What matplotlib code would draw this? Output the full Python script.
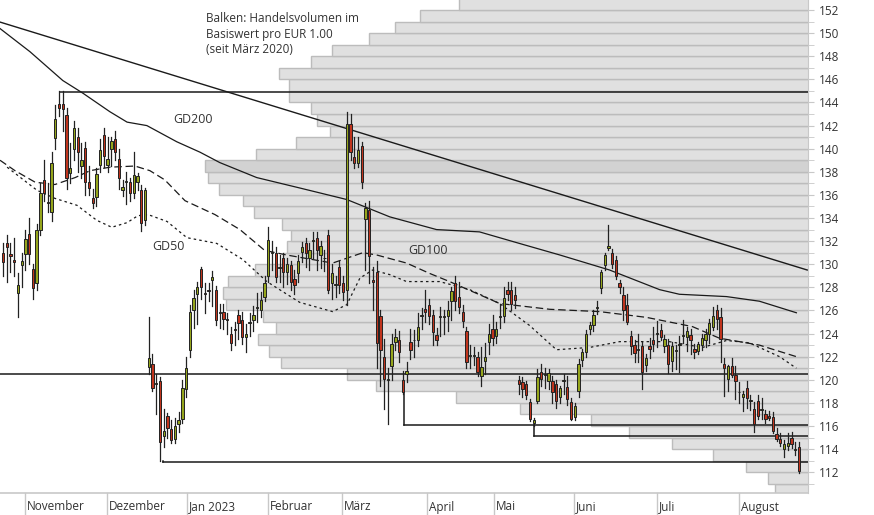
import matplotlib
matplotlib.use("Agg")
import matplotlib.pyplot as plt
from matplotlib.patches import Rectangle
import numpy as np

plt.rcParams['font.family'] = ['Open Sans', 'DejaVu Sans']

# ---------------- data ----------------
opens = [131.0,131.8,130.9,130.4,127.5,129.9,130.9,132.6,129.6,128.4,
         133.0,137.3,135.4,134.5,140.9,143.9,143.9,142.9,137.9,140.0,
         141.0,138.5,140.1,137.1,135.7,135.8,138.6,141.2,138.6,140.0,
         140.8,139.1,136.4,137.1,137.1,136.2,137.1,136.4,133.8,
         121.1,121.4,119.6,119.9,115.1,116.9,115.7,114.9,116.2,116.6,
         119.2,122.6,126.0,127.4,129.6,127.5,127.8,128.6,127.8,125.9,
         125.9,125.3,124.0,124.4,125.6,125.2,123.7,124.9,125.2,126.2,
         126.0,127.2,129.0,131.0,131.0,129.7,130.5,129.3,129.9,128.7,
         129.2,131.1,131.8,130.5,132.0,132.3,130.8,130.5,132.5,128.4,
         128.2,129.8,128.4,127.8,142.1,139.3,138.8,140.2,133.9,134.7,
         128.6,129.3,125.5,122.0,120.0,121.2,123.3,123.4,120.0,120.5,
         123.3,123.4,123.4,125.5,126.1,126.5,125.6,123.9,125.4,125.4,
         125.5,126.8,128.4,127.2,125.9,124.2,122.1,122.1,122.0,120.3,
         121.6,123.3,124.4,123.8,125.4,125.5,127.8,127.8,127.3,120.0,
         119.8,119.6,118.1,116.3,118.2,120.7,120.4,119.9,119.9,119.6,
         118.5,119.9,119.4,118.1,116.8,119.0,121.7,122.4,124.4,124.7,
         126.2,127.9,129.9,131.4,131.0,130.4,128.4,127.3,126.5,123.8,
         123.0,122.6,122.9,121.3,122.9,123.4,124.0,124.3,122.9,123.0,
         121.6,122.5,123.0,123.8,123.7,123.9,122.7,122.5,123.0,123.4,
         124.0,124.6,126.0,125.4,121.4,120.05,121.2,120.4,118.9,118.5,
         119.3,118.2,117.5,118.2,117.4,117.0,116.9,116.8,115.3,114.9,
         114.0,114.3,115.0,113.9,114.2]
highs = [131.8,132.5,131.8,132.3,129.2,131.0,133.0,134.0,130.0,133.5,
         137.0,139.0,137.0,139.7,143.8,145.0,145.0,143.5,140.5,142.4,
         141.8,140.5,140.6,138.5,136.5,138.3,140.8,141.8,141.0,141.0,
         141.5,140.0,137.3,138.0,137.5,139.7,137.9,136.9,136.6,
         125.4,122.2,120.5,120.2,117.5,117.1,116.5,116.7,117.2,120.0,
         122.0,126.5,127.8,128.5,129.8,128.4,128.4,129.4,128.1,126.6,
         126.6,125.8,124.6,125.0,126.0,125.9,124.8,125.8,126.4,127.5,
         127.6,129.0,133.2,132.0,131.5,130.8,131.0,130.5,130.3,129.5,
         130.8,131.9,132.3,131.8,132.8,132.8,132.0,131.2,133.0,130.0,
         129.0,130.3,129.0,143.2,143.0,141.0,141.0,140.6,135.3,135.5,
         129.8,130.3,126.0,123.5,121.0,124.0,124.4,124.2,120.8,121.5,
         124.4,124.3,125.8,126.2,127.8,127.0,126.0,124.5,126.3,126.0,
         126.8,128.0,129.0,128.5,126.5,124.6,123.0,122.8,122.4,122.8,
         123.2,124.8,125.6,125.0,126.6,128.0,128.5,128.5,128.0,120.3,
         120.2,119.9,118.3,116.7,120.9,121.4,121.0,120.9,120.3,120.0,
         119.5,120.5,120.3,118.4,118.0,121.8,122.7,124.3,125.0,126.0,
         126.8,129.5,131.0,133.4,131.3,130.7,128.6,128.0,127.4,124.2,
         123.4,124.0,123.3,122.2,123.6,124.6,125.1,124.8,123.9,123.5,
         123.3,123.0,123.8,125.2,124.6,124.4,123.1,123.3,124.0,124.4,
         125.3,126.3,126.5,126.2,121.9,121.3,121.9,121.2,119.8,119.0,
         119.9,118.7,118.1,118.7,118.4,117.4,117.3,117.2,115.8,115.4,
         114.8,115.4,115.5,114.6,114.6]
lows = [129.0,128.5,129.3,129.0,125.4,128.0,129.5,130.0,127.0,127.8,
        132.5,135.5,134.5,133.7,140.0,142.8,141.5,136.5,137.0,139.0,
        138.0,137.5,136.0,136.0,134.9,135.0,138.0,138.4,138.0,138.5,
        139.0,136.5,135.9,135.2,135.5,135.7,136.4,132.9,133.4,
        120.5,119.0,117.0,113.0,114.2,115.0,114.5,114.5,115.5,116.3,
        118.5,122.0,124.5,124.8,127.0,125.8,126.8,126.4,124.7,124.5,
        124.4,124.0,122.6,123.0,123.5,123.1,122.4,123.8,124.2,125.0,
        125.4,126.8,128.5,129.5,128.5,128.5,128.0,128.3,127.8,127.4,
        128.5,130.2,129.8,129.5,130.5,129.5,129.7,129.4,127.5,127.0,
        127.2,127.5,126.9,126.5,139.0,138.3,138.4,136.6,129.5,128.4,
        126.0,121.0,119.5,117.5,116.2,120.0,122.6,121.5,118.8,119.8,
        121.8,122.0,122.9,124.4,125.0,124.8,123.0,123.0,123.8,124.0,
        124.2,125.2,126.0,125.8,124.6,121.0,121.0,121.3,120.3,119.5,
        120.5,122.2,123.0,123.2,124.5,125.0,126.9,126.0,126.2,118.8,
        118.5,118.3,116.4,116.0,118.0,119.5,119.3,119.2,118.0,117.6,
        118.0,118.8,117.8,116.5,116.5,118.5,121.2,122.0,124.0,124.2,
        125.7,127.5,129.5,131.2,129.7,128.7,127.5,125.2,124.8,122.2,
        121.5,121.5,119.2,120.8,121.9,122.5,122.8,123.4,122.4,120.6,
        120.8,120.9,120.7,123.2,122.5,122.2,121.9,122.2,122.6,122.8,
        123.2,124.3,124.4,121.5,118.6,119.0,120.2,118.3,118.0,117.3,
        117.6,117.4,115.5,116.6,116.6,116.3,116.5,115.4,114.7,114.3,
        113.3,113.9,114.1,113.5,111.9]
closes = [130.2,131.5,130.7,130.2,128.2,130.3,132.2,130.9,127.9,133.0,
          136.2,136.2,135.3,138.8,142.6,143.5,143.4,137.5,138.3,141.8,
          139.7,139.0,137.1,136.6,135.3,137.8,139.9,139.4,139.1,140.7,
          139.7,137.5,136.7,137.1,136.2,137.7,137.6,133.6,136.4,
          121.9,119.3,119.6,114.6,115.6,115.8,114.8,116.0,116.5,119.3,
          121.0,125.9,127.1,128.0,128.0,127.4,127.7,128.9,125.2,125.8,
          125.3,125.2,123.2,124.3,124.9,123.7,124.0,124.9,125.6,126.2,
          126.9,128.4,132.1,131.0,128.9,129.7,129.3,130.0,128.5,128.2,
          130.3,131.5,131.0,131.2,132.0,131.2,131.6,130.5,127.8,129.2,
          128.2,128.2,127.6,142.1,139.7,138.8,139.9,137.1,134.9,130.7,
          128.5,123.2,122.6,120.1,120.0,123.1,123.7,122.4,118.9,120.8,
          122.6,123.4,124.6,125.6,125.9,125.5,124.1,123.4,125.4,125.4,
          126.0,127.7,126.8,126.3,125.1,121.5,122.1,122.1,120.7,121.1,
          122.0,124.0,123.6,124.4,125.4,127.1,127.4,126.6,126.9,119.6,
          119.2,118.7,116.6,116.5,120.2,120.1,120.4,120.6,118.9,118.2,
          119.3,119.9,118.3,116.6,117.7,121.4,122.4,124.0,124.7,125.6,
          126.2,129.3,130.8,131.6,130.0,129.0,128.0,126.0,125.0,122.9,
          122.3,122.6,120.7,121.9,122.7,123.1,124.0,123.7,123.5,121.4,
          122.9,122.5,123.0,123.8,124.2,123.4,122.4,123.1,123.6,124.0,
          124.9,125.5,125.3,123.5,121.0,121.2,120.4,119.9,118.9,118.8,
          118.4,118.2,116.2,116.9,117.4,116.6,116.7,115.6,114.9,114.5,
          114.4,114.5,114.4,113.9,112.1]

month_labels = ["November", "Dezember", "Jan 2023", "Februar", "März",
                "April", "Mai", "Juni", "Juli", "August"]
month_start_idx = [5.9, 27.8, 49.2, 70.9, 90.6, 113.4, 131.3, 152.9, 175.1, 197.0]

# volume profile (price band bottom, relative volume)
profile_price = list(range(110, 153))
profile_volume = [33, 40, 62, 95, 136, 179, 217, 288, 352, 432, 461, 527, 539, 550,
                  532, 545, 582, 585, 580, 553, 525, 521, 517, 526, 554, 565, 589,
                  600, 603, 552, 512, 478, 491, 497, 519, 519, 529, 497, 476, 439,
                  413, 388, 349]
profile_highlight = 138

# support lines: level, start index
support_level = [144.9, 120.5, 116.1, 115.1, 112.9]
support_start = [15.2, -1.0, 107.2, 142.0, 42.8]
support_drop_from = [None, None, 118.9, 116.1, 113.0]

trend_idx = [-0.8, 215.2]
trend_price = [150.96, 129.5]

gd200_idx = [-0.8, 7.2, 16, 21.4, 28.6, 33.2, 38.5, 46.5, 52.7, 58, 67.9, 79.4, 92,
             103.5, 116, 127.5, 138.2, 149, 162.3, 175.7, 181, 193.6, 202.4, 212.3]
gd200_val = [150.4, 148.4, 145.9, 144.8, 143.2, 142.3, 142.0, 140.6, 139.7, 138.8,
             137.5, 136.6, 135.6, 134.1, 133.0, 132.8, 131.8, 130.8, 129.5, 127.8,
             127.4, 127.2, 126.8, 125.8]
gd100_idx = [-0.8, 3.2, 8.6, 13.9, 19.3, 23.3, 28.6, 35.3, 39.3, 43.3, 48.7, 56.7,
             63.4, 70, 75.9, 88.2, 96.3, 100, 108, 114.2, 119.5, 132.9, 146.3, 159.6,
             172.2, 184.5, 191.7, 202.4, 212.3]
gd100_val = [139.0, 138.1, 137.1, 136.9, 137.5, 138.1, 138.4, 138.5, 138.1, 137.3,
             135.5, 134.3, 133.0, 131.2, 130.8, 130.1, 131.0, 130.8, 130.1, 129.2,
             128.5, 126.6, 126.1, 125.9, 125.4, 124.6, 123.6, 123.0, 122.0]
gd50_idx = [1.1, 9.1, 13.9, 19.8, 25.1, 29.1, 33.2, 36.1, 38.8, 43.9, 49.2, 57.2,
            64.2, 70.6, 79.4, 88.2, 92, 95.5, 98.9, 103.5, 108, 116.8, 124.9, 132.9,
            140.9, 148.1, 157, 165, 178.3, 187.2, 193.6, 199.7, 207.8, 212.3]
gd50_val = [138.4, 136.4, 135.7, 135.1, 133.8, 133.2, 133.6, 134.2, 134.3, 133.7,
            132.3, 131.8, 130.4, 128.5, 126.7, 125.9, 126.5, 128.8, 129.5, 129.1,
            128.5, 128.5, 127.8, 126.6, 124.7, 122.6, 122.8, 123.3, 123.3, 122.8,
            123.4, 123.2, 122.0, 121.0]

# ---------------- figure ----------------
W, H = 874, 515
fig = plt.figure(figsize=(W / 100, H / 100), dpi=100)
ax = fig.add_axes([0, 22 / H, 808 / W, 1 - 22 / H])

n = len(closes)
step = 796 / (n - 1)           # px per candle
xmin = -3 / step
xmax = xmin + 808 / step
ax.set_xlim(xmin, xmax)
ax.set_ylim(110.2, 152.87)

# volume profile
scale = 1 / step
for p, v in zip(profile_price, profile_volume):
    fc = '#d2d2d2' if p == profile_highlight else '#e0e0e0'
    ax.add_patch(Rectangle((xmax - v * scale, p), v * scale + 1, 1.0,
                           facecolor=fc, edgecolor='#bcbcbc', lw=1.0, zorder=1))

# support lines
for lvl, st, dfrom in zip(support_level, support_start, support_drop_from):
    ax.plot([st, xmax], [lvl, lvl], color='#1a1a1a', lw=1.1, zorder=3)
    if dfrom is not None:
        ax.plot([st, st], [dfrom, lvl], color='#1a1a1a', lw=1.1, zorder=3)

ax.plot(trend_idx, trend_price, color='#1a1a1a', lw=1.0, zorder=3)
ax.plot(gd200_idx, gd200_val, color='#1a1a1a', lw=0.9, zorder=3)
ax.plot(gd100_idx, gd100_val, color='#1a1a1a', lw=0.9, zorder=3, dashes=(6, 3))
ax.plot(gd50_idx, gd50_val, color='#1a1a1a', lw=0.9, zorder=3, dashes=(2, 2.5))

# candles
w = 0.62
for i, (o, h, l, c) in enumerate(zip(opens, highs, lows, closes)):
    col = '#95a51c' if c >= o else '#c0341d'
    ax.plot([i, i], [l, h], color='#222222', lw=0.9, zorder=4)
    lo, hi = min(o, c), max(o, c)
    ax.add_patch(Rectangle((i - w / 2, lo), w, max(hi - lo, 0.08),
                           facecolor=col, edgecolor='#222222', lw=0.7, zorder=5))

# labels
tc = '#333333'
ax.text(50.8, 142.5, "GD200", fontsize=9, color=tc, ha='center', va='center', zorder=6)
ax.text(44.4, 131.5, "GD50", fontsize=9, color=tc, ha='center', va='center', zorder=6)
ax.text(113.6, 131.2, "GD100", fontsize=9, color=tc, ha='center', va='center', zorder=6)
ax.text(54.3, 151.8, "Balken: Handelsvolumen im\nBasiswert pro EUR 1.00\n(seit März 2020)",
        fontsize=8.5, color=tc, ha='left', va='top', linespacing=1.25, zorder=6)

# axes styling
for s in ['top', 'left', 'bottom']:
    ax.spines[s].set_visible(False)
ax.spines['right'].set_color('#c8c8c8')
ax.yaxis.tick_right()
ax.set_yticks(np.arange(112, 153, 2))
ax.set_yticks(np.arange(111, 153, 1), minor=True)
ax.tick_params(axis='y', which='both', colors='#c8c8c8', labelcolor=tc,
               labelsize=8.5, length=4, pad=4)
ax.set_xticks([])

# bottom axis with month separators
fig.add_artist(plt.Line2D([0, 808 / W], [22 / H, 22 / H], color='#c8c8c8', lw=1.2))
for lab, mi in zip(month_labels, month_start_idx):
    xf = (mi - xmin) * step / W
    fig.add_artist(plt.Line2D([xf, xf], [0, 22 / H], color='#c8c8c8', lw=1.0))
    fig.text(xf + 2 / W, 8 / H, lab, fontsize=8.5, color=tc, ha='left', va='center')

fig.savefig("out.png", dpi=100)
